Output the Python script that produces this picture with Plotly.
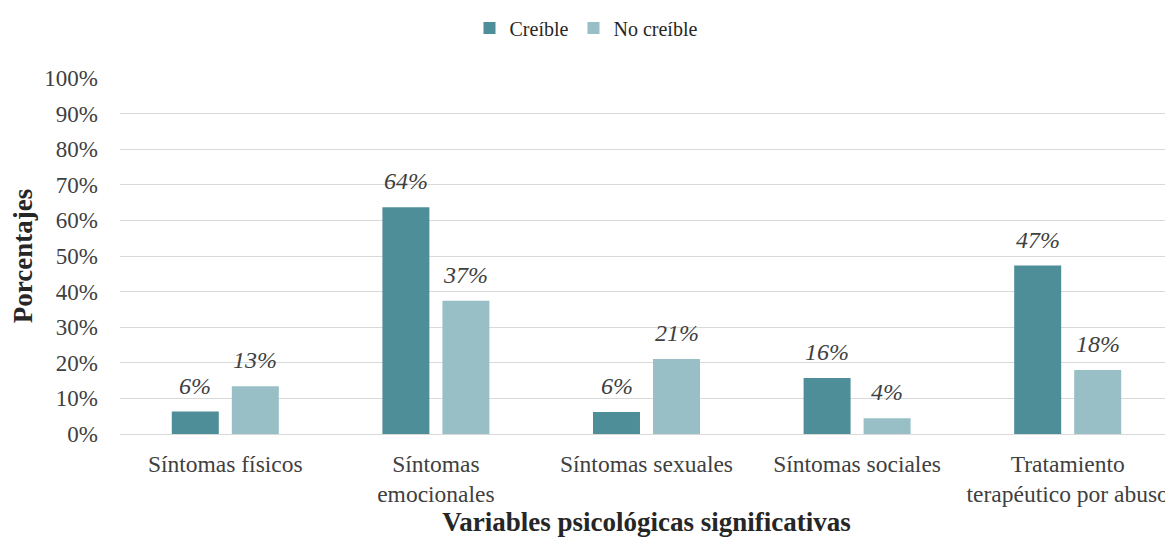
import plotly.graph_objects as go

categories = ["Síntomas físicos", "Síntomas<br>emocionales", "Síntomas sexuales",
              "Síntomas sociales", "Tratamiento<br>terapéutico por abuso"]
creible = [6.3, 63.7, 6.2, 15.7, 47.3]
no_creible = [13.4, 37.4, 21.1, 4.4, 18.0]
y_ticks = list(range(0, 101, 10))
y_tick_labels = [f"{t}%" for t in y_ticks]

FONT = "Liberation Serif"
C1 = "#4E8E98"
C2 = "#98BFC6"

# page has an 8px body margin; figure is offset by (8, 8)
W, H = 1165, 530

fig = go.Figure()
fig.add_trace(go.Bar(name="Creíble", x=categories, y=creible, marker_color=C1,
                     marker_line_width=0))
fig.add_trace(go.Bar(name="No creíble", x=categories, y=no_creible, marker_color=C2,
                     marker_line_width=0))

for vals, shift in ((creible, -30), (no_creible, 30)):
    for c, v in zip(categories, vals):
        fig.add_annotation(x=c, y=v, text=f"<i>{round(v)}%</i>", showarrow=False,
                           xshift=shift, yshift=11, yanchor="bottom",
                           font=dict(family=FONT, size=24, color="#404040"))

fig.update_layout(
    width=W, height=H,
    margin=dict(l=112, r=0, t=70, b=104, autoexpand=False),
    paper_bgcolor="white", plot_bgcolor="white",
    barmode="group", bargap=0.43, bargroupgap=0.217,
    font=dict(family=FONT, size=23, color="#404040"),
    legend=dict(orientation="h", xref="container", yref="container",
                x=(586 - 8) / W, xanchor="center", y=1 - 20 / H, yanchor="middle",
                font=dict(family=FONT, size=20, color="#262626"),
                itemwidth=30, traceorder="normal"),
    xaxis=dict(
        title=dict(text="<b>Variables psicológicas significativas</b>",
                   font=dict(family=FONT, size=27, color="#262626"), standoff=6),
        tickfont=dict(family=FONT, size=23.5, color="#404040"),
        showgrid=False, showline=False, zeroline=False, ticks="",
        ticklabelstandoff=13, automargin=False,
    ),
    yaxis=dict(
        title=dict(text="<b>Porcentajes</b>",
                   font=dict(family=FONT, size=27, color="#262626"), standoff=8),
        range=[0, 100], tickvals=y_ticks, ticktext=y_tick_labels,
        tickfont=dict(family=FONT, size=23, color="#404040"),
        showgrid=True, gridcolor="#d9d9d9", gridwidth=1,
        zeroline=True, zerolinecolor="#d9d9d9", zerolinewidth=1,
        showline=False, ticks="", ticklabelstandoff=21, automargin=False,
    ),
)

fig.write_html("out.html")
